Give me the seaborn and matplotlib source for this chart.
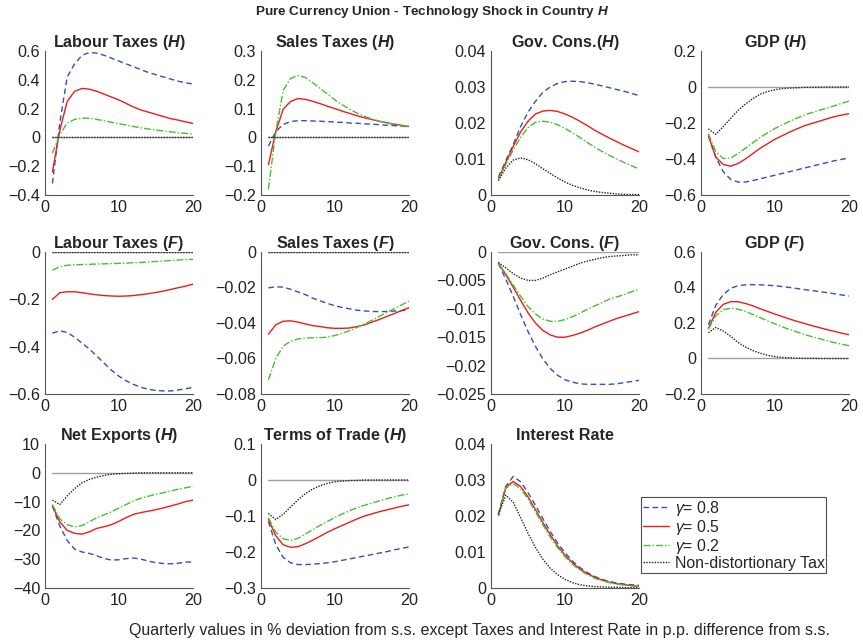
import numpy as np
import pandas as pd
import matplotlib
matplotlib.use("Agg")
import matplotlib.pyplot as plt
import seaborn as sns
from matplotlib.ticker import FuncFormatter
from matplotlib.lines import Line2D

quarters = list(range(1, 21))

# Labour Taxes (H)
lab_h_08 = [-0.32, 0.10, 0.42, 0.51, 0.57, 0.59, 0.585, 0.57, 0.55, 0.53, 0.51, 0.49, 0.47, 0.45, 0.435, 0.42, 0.405, 0.39, 0.38, 0.37]
lab_h_05 = [-0.24, 0.05, 0.25, 0.32, 0.34, 0.335, 0.32, 0.30, 0.28, 0.26, 0.235, 0.21, 0.19, 0.175, 0.16, 0.145, 0.13, 0.12, 0.108, 0.097]
lab_h_02 = [-0.11, 0.02, 0.10, 0.125, 0.134, 0.133, 0.125, 0.115, 0.105, 0.095, 0.085, 0.075, 0.066, 0.058, 0.051, 0.045, 0.039, 0.033, 0.028, 0.023]
lab_h_nd = [0.0] * 20
# Sales Taxes (H)
sal_h_08 = [-0.03, 0.02, 0.045, 0.055, 0.058, 0.058, 0.057, 0.056, 0.055, 0.053, 0.052, 0.05, 0.049, 0.047, 0.046, 0.044, 0.042, 0.041, 0.039, 0.037]
sal_h_05 = [-0.095, 0.02, 0.098, 0.125, 0.135, 0.132, 0.125, 0.117, 0.108, 0.1, 0.091, 0.083, 0.075, 0.068, 0.062, 0.056, 0.051, 0.046, 0.042, 0.038]
sal_h_02 = [-0.18, 0.02, 0.163, 0.205, 0.215, 0.208, 0.19, 0.17, 0.15, 0.13, 0.113, 0.097, 0.084, 0.073, 0.064, 0.056, 0.05, 0.045, 0.04, 0.036]
sal_h_nd = [0.0] * 20
# Gov. Cons. (H)
gov_h_08 = [0.005, 0.0095, 0.014, 0.019, 0.023, 0.026, 0.0285, 0.030, 0.031, 0.0315, 0.0316, 0.0315, 0.0312, 0.0308, 0.0303, 0.0298, 0.0293, 0.0288, 0.0282, 0.0276]
gov_h_05 = [0.0045, 0.009, 0.0135, 0.0175, 0.0205, 0.0225, 0.0233, 0.0235, 0.0232, 0.0225, 0.0216, 0.0205, 0.0193, 0.018, 0.0169, 0.0158, 0.0148, 0.0138, 0.0129, 0.012]
gov_h_02 = [0.0045, 0.0085, 0.0125, 0.016, 0.0187, 0.0202, 0.0205, 0.0202, 0.0195, 0.0185, 0.0173, 0.016, 0.0146, 0.0133, 0.0121, 0.011, 0.01, 0.009, 0.0081, 0.0073]
gov_h_nd = [0.004, 0.0075, 0.0097, 0.0103, 0.0098, 0.0087, 0.0073, 0.006, 0.0047, 0.0036, 0.0027, 0.002, 0.0014, 0.001, 0.0007, 0.0005, 0.0003, 0.0002, 0.00015, 0.0001]
# GDP (H)
gdp_h_08 = [-0.27, -0.39, -0.47, -0.513, -0.528, -0.528, -0.52, -0.51, -0.5, -0.49, -0.48, -0.47, -0.46, -0.45, -0.44, -0.43, -0.42, -0.41, -0.402, -0.394]
gdp_h_05 = [-0.27, -0.39, -0.43, -0.44, -0.425, -0.40, -0.37, -0.34, -0.315, -0.29, -0.27, -0.25, -0.232, -0.215, -0.202, -0.19, -0.177, -0.165, -0.156, -0.148]
gdp_h_02 = [-0.26, -0.36, -0.397, -0.395, -0.37, -0.34, -0.31, -0.28, -0.255, -0.23, -0.21, -0.19, -0.172, -0.155, -0.142, -0.13, -0.117, -0.105, -0.091, -0.078]
gdp_h_nd = [-0.233, -0.263, -0.22, -0.175, -0.13, -0.095, -0.065, -0.04, -0.025, -0.015, -0.009, -0.006, -0.004, -0.002, -0.001, -0.0005, 0, 0, 0, 0]
# Labour Taxes (F)
lab_f_08 = [-0.343, -0.333, -0.34, -0.36, -0.385, -0.41, -0.44, -0.47, -0.5, -0.525, -0.545, -0.56, -0.572, -0.58, -0.585, -0.587, -0.587, -0.583, -0.578, -0.572]
lab_f_05 = [-0.2, -0.172, -0.168, -0.168, -0.172, -0.177, -0.181, -0.184, -0.186, -0.187, -0.186, -0.184, -0.18, -0.176, -0.171, -0.165, -0.158, -0.151, -0.144, -0.136]
lab_f_02 = [-0.077, -0.062, -0.056, -0.054, -0.053, -0.052, -0.051, -0.05, -0.049, -0.048, -0.047, -0.045, -0.044, -0.042, -0.04, -0.038, -0.036, -0.034, -0.032, -0.031]
lab_f_nd = [0.0] * 20
# Sales Taxes (F)
sal_f_08 = [-0.0202, -0.0196, -0.0198, -0.021, -0.0225, -0.024, -0.026, -0.0275, -0.029, -0.0303, -0.0313, -0.032, -0.0328, -0.0332, -0.0335, -0.0336, -0.0335, -0.0333, -0.033, -0.0327]
sal_f_05 = [-0.0463, -0.041, -0.039, -0.0388, -0.0395, -0.0405, -0.0415, -0.042, -0.0427, -0.043, -0.043, -0.0428, -0.042, -0.041, -0.0395, -0.038, -0.0363, -0.0347, -0.033, -0.0314]
sal_f_02 = [-0.072, -0.06, -0.053, -0.0503, -0.049, -0.0485, -0.0483, -0.0482, -0.048, -0.047, -0.0458, -0.0443, -0.0425, -0.0405, -0.0385, -0.0363, -0.034, -0.032, -0.0298, -0.0277]
sal_f_nd = [0.0] * 20
# Gov. Cons. (F)
gov_f_08 = [-0.002, -0.0048, -0.0078, -0.011, -0.014, -0.0166, -0.0188, -0.0205, -0.0217, -0.0225, -0.0229, -0.0232, -0.0233, -0.0233, -0.0233, -0.0233, -0.0232, -0.023, -0.0228, -0.0226]
gov_f_05 = [-0.002, -0.004, -0.0062, -0.0085, -0.0107, -0.0125, -0.0138, -0.0146, -0.015, -0.015, -0.0147, -0.0143, -0.0138, -0.0132, -0.0127, -0.0122, -0.0117, -0.0113, -0.0109, -0.0105]
gov_f_02 = [-0.002, -0.0038, -0.0058, -0.0078, -0.0096, -0.0109, -0.0118, -0.0122, -0.0122, -0.0119, -0.0114, -0.0108, -0.0101, -0.0095, -0.0089, -0.0083, -0.0079, -0.0075, -0.007, -0.0066]
gov_f_nd = [-0.0018, -0.0028, -0.0038, -0.0046, -0.005, -0.005, -0.0046, -0.004, -0.0035, -0.003, -0.0025, -0.002, -0.0016, -0.0013, -0.001, -0.0008, -0.0007, -0.0006, -0.0005, -0.0005]
# GDP (F)
gdp_f_08 = [0.19, 0.3, 0.36, 0.395, 0.41, 0.415, 0.416, 0.415, 0.413, 0.41, 0.405, 0.4, 0.394, 0.388, 0.383, 0.377, 0.371, 0.365, 0.358, 0.352]
gdp_f_05 = [0.17, 0.26, 0.305, 0.32, 0.32, 0.31, 0.297, 0.28, 0.265, 0.25, 0.236, 0.222, 0.209, 0.197, 0.185, 0.174, 0.163, 0.153, 0.143, 0.134]
gdp_f_02 = [0.165, 0.24, 0.275, 0.283, 0.278, 0.265, 0.248, 0.23, 0.212, 0.195, 0.178, 0.163, 0.149, 0.135, 0.123, 0.112, 0.1, 0.09, 0.081, 0.072]
gdp_f_nd = [0.145, 0.175, 0.155, 0.125, 0.09, 0.065, 0.045, 0.03, 0.018, 0.01, 0.006, 0.004, 0.002, 0.001, 0.001, 0, 0, 0, 0, 0]
# Net Exports (H)
nx_08 = [-11.5, -18.5, -23.5, -26.5, -27.5, -28, -28.8, -29.8, -30.3, -30.2, -29.8, -29.6, -30, -30.7, -31.2, -31.5, -31.6, -31.4, -31, -31]
nx_05 = [-11.5, -17, -20, -21, -21.3, -20.5, -19.3, -18.7, -18, -16.8, -15.5, -14.4, -13.8, -13.3, -12.8, -12.2, -11.5, -10.8, -10, -9.5]
nx_02 = [-11, -16, -18, -18.8, -18.3, -17, -15.6, -14.6, -13.5, -12.2, -11, -9.7, -8.8, -8.1, -7.5, -6.9, -6.3, -5.7, -5.2, -4.7]
nx_nd = [-9.5, -11, -8, -5.5, -3.5, -2.3, -1.5, -0.9, -0.5, -0.3, -0.2, -0.1, 0, 0, 0, 0, 0, 0, 0, 0]
# Terms of Trade (H)
tot_08 = [-0.115, -0.18, -0.215, -0.23, -0.235, -0.235, -0.234, -0.232, -0.23, -0.227, -0.223, -0.219, -0.215, -0.211, -0.207, -0.203, -0.199, -0.194, -0.19, -0.186]
tot_05 = [-0.11, -0.155, -0.18, -0.187, -0.185, -0.177, -0.167, -0.156, -0.145, -0.135, -0.126, -0.117, -0.108, -0.1, -0.094, -0.088, -0.083, -0.078, -0.073, -0.069]
tot_02 = [-0.105, -0.145, -0.163, -0.168, -0.162, -0.15, -0.138, -0.126, -0.115, -0.104, -0.094, -0.085, -0.077, -0.07, -0.064, -0.058, -0.052, -0.047, -0.042, -0.038]
tot_nd = [-0.093, -0.11, -0.095, -0.075, -0.055, -0.038, -0.025, -0.016, -0.009, -0.005, -0.003, -0.0015, -0.001, 0, 0, 0, 0, 0, 0, 0]
# Interest Rate
ir_08 = [0.0205, 0.0282, 0.031, 0.0295, 0.0265, 0.023, 0.0193, 0.0157, 0.0125, 0.0098, 0.0075, 0.0057, 0.0043, 0.0032, 0.0024, 0.0018, 0.0014, 0.0011, 0.0009, 0.0008]
ir_05 = [0.0202, 0.028, 0.0296, 0.0282, 0.0253, 0.0218, 0.0182, 0.0148, 0.0117, 0.0091, 0.007, 0.0053, 0.004, 0.003, 0.0022, 0.0016, 0.0012, 0.0009, 0.0007, 0.0005]
ir_02 = [0.02, 0.0277, 0.029, 0.0276, 0.0247, 0.0212, 0.0176, 0.0142, 0.0112, 0.0087, 0.0066, 0.005, 0.0037, 0.0027, 0.002, 0.0015, 0.0011, 0.0008, 0.0006, 0.0005]
ir_nd = [0.0205, 0.0258, 0.0238, 0.0196, 0.0152, 0.0113, 0.008, 0.0055, 0.0037, 0.0024, 0.0015, 0.0009, 0.0006, 0.0004, 0.0003, 0.0002, 0.0002, 0.0001, 0.0001, 0.0001]

zero_line = [0.0] * 20

titles = ["Labour Taxes ($\\mathbfit{H}$)", "Sales Taxes ($\\mathbfit{H}$)", "Gov. Cons.($\\mathbfit{H}$)", "GDP ($\\mathbfit{H}$)",
          "Labour Taxes ($\\mathbfit{F}$)", "Sales Taxes ($\\mathbfit{F}$)", "Gov. Cons. ($\\mathbfit{F}$)", "GDP ($\\mathbfit{F}$)",
          "Net Exports ($\\mathbfit{H}$)", "Terms of Trade ($\\mathbfit{H}$)", "Interest Rate"]
series = [
    (lab_h_08, lab_h_05, lab_h_02, lab_h_nd),
    (sal_h_08, sal_h_05, sal_h_02, sal_h_nd),
    (gov_h_08, gov_h_05, gov_h_02, gov_h_nd),
    (gdp_h_08, gdp_h_05, gdp_h_02, gdp_h_nd),
    (lab_f_08, lab_f_05, lab_f_02, lab_f_nd),
    (sal_f_08, sal_f_05, sal_f_02, sal_f_nd),
    (gov_f_08, gov_f_05, gov_f_02, gov_f_nd),
    (gdp_f_08, gdp_f_05, gdp_f_02, gdp_f_nd),
    (nx_08, nx_05, nx_02, nx_nd),
    (tot_08, tot_05, tot_02, tot_nd),
    (ir_08, ir_05, ir_02, ir_nd),
]
ylims = [(-0.4, 0.6, 0.2), (-0.2, 0.3, 0.1), (0, 0.04, 0.01), (-0.6, 0.2, 0.2),
         (-0.6, 0.0, 0.2), (-0.08, 0.0, 0.02), (-0.025, 0.0, 0.005), (-0.2, 0.6, 0.2),
         (-40, 10, 10), (-0.3, 0.1, 0.1), (0, 0.04, 0.01)]
show_zero = [True, True, False, True, True, True, True, True, True, True, False]
legend_labels = ["$\\gamma$= 0.8", "$\\gamma$= 0.5", "$\\gamma$= 0.2", "Non-distortionary Tax"]

sns.set_style("white")
plt.rcParams["font.family"] = ["Liberation Sans", "DejaVu Sans"]
plt.rcParams["mathtext.fontset"] = "custom"
plt.rcParams["mathtext.rm"] = "Liberation Sans"
plt.rcParams["mathtext.it"] = "Liberation Sans:italic"
plt.rcParams["mathtext.bf"] = "Liberation Sans:bold"
plt.rcParams["mathtext.bfit"] = "Liberation Sans:bold:italic"

colors = ["#2F4FC4", "#EE1C1C", "#43C22B", "#222222"]
styles = [(0, (4, 2.5)), "-", (0, (5, 1.5, 1, 1.5)), (0, (1, 1))]
widths = [1.0, 1.0, 1.0, 1.0]

fig = plt.figure(figsize=(8.63, 6.42), dpi=100)
W, H = 863, 642
col_left = [45, 261, 491, 701]
row_top = [51, 252, 444]
row_bot = [195, 394, 588]
aw = 148

def fmt(v, pos):
    if abs(v) < 1e-12:
        return "0"
    s = "%g" % v
    return s.replace("-", "\u2212")

for i in range(11):
    r, c = divmod(i, 4)
    ax = fig.add_axes([col_left[c] / W, 1 - row_bot[r] / H, aw / W, (row_bot[r] - row_top[r]) / H])
    if show_zero[i]:
        sns.lineplot(x=quarters, y=zero_line, ax=ax, color="#A0A0A0", lw=1.0, linestyle="-")
    for k in range(4):
        sns.lineplot(x=quarters, y=series[i][k], ax=ax, color=colors[k], linestyle=styles[k], lw=widths[k])
    lo, hi, st = ylims[i]
    ax.set_ylim(lo, hi)
    ax.set_yticks(np.round(np.arange(lo, hi + st / 2, st), 6))
    ax.set_xlim(0, 20)
    ax.set_xticks([0, 10, 20])
    ax.yaxis.set_major_formatter(FuncFormatter(fmt))
    ax.set_title(titles[i], fontsize=11.6, fontweight="bold", pad=3)
    for side in ["top", "right"]:
        ax.spines[side].set_visible(False)
    for side in ["left", "bottom"]:
        ax.spines[side].set_color("#555555")
        ax.spines[side].set_linewidth(0.8)
    ax.tick_params(direction="in", length=3, width=0.6, colors="#555555", labelcolor="#222222",
                   labelsize=11.6, pad=3.5)
    ax.set_xlabel("")
    ax.set_ylabel("")

handles = [Line2D([0], [0], color=colors[k], linestyle=styles[k], lw=widths[k]) for k in range(4)]
leg = fig.legend(handles, legend_labels, loc="upper left", bbox_to_anchor=(641 / W, 1 - 497 / H),
                 frameon=True, fancybox=False, edgecolor="#222222", fontsize=11.4, handlelength=1.65,
                 handletextpad=0.35, borderpad=0.12, labelspacing=0.0, borderaxespad=0)
leg.get_frame().set_linewidth(0.8)

fig.text(0.501, 1 - 12 / H, "Pure Currency Union - Technology Shock in Country $\\mathbfit{H}$",
         ha="center", va="center", fontsize=9.7, fontweight="bold")
fig.text(0.556, 1 - 630 / H,
         "Quarterly values in % deviation from s.s. except Taxes and Interest Rate in p.p. difference from s.s.",
         ha="center", va="center", fontsize=11.5)

fig.savefig("out.png", dpi=100)
